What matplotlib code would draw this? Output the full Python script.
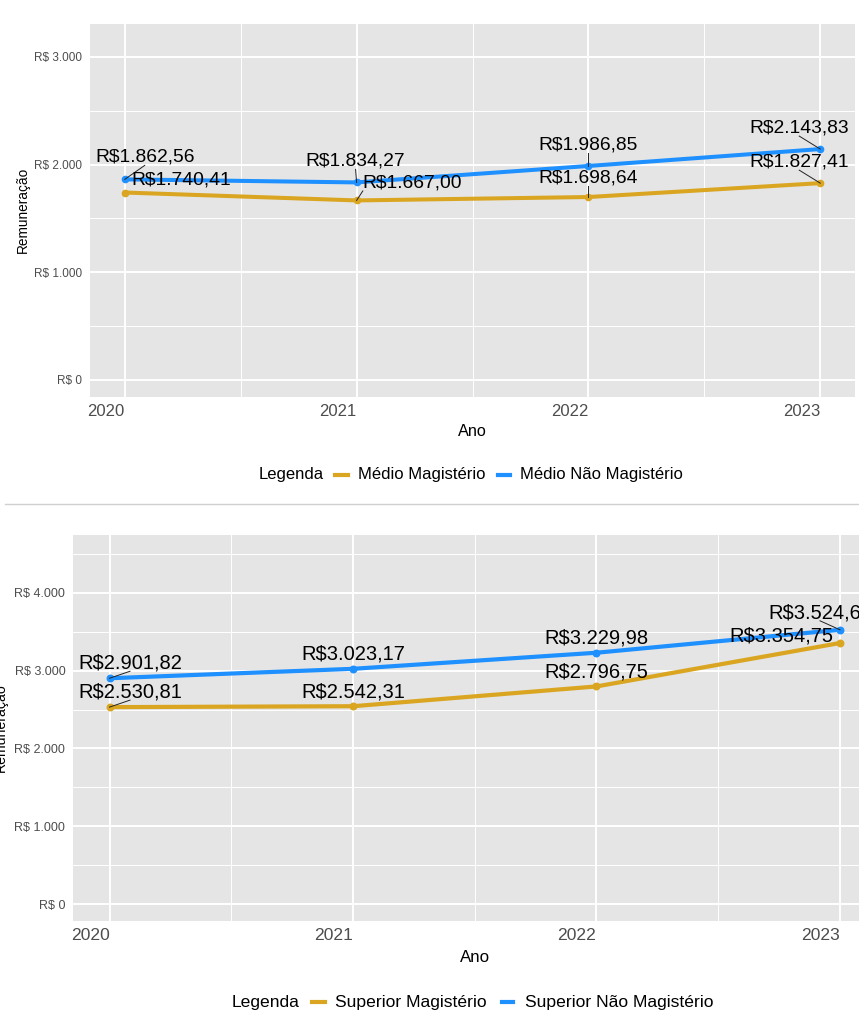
import matplotlib
matplotlib.use("Agg")
import matplotlib.pyplot as plt
from matplotlib.lines import Line2D
from matplotlib.ticker import FixedLocator, FuncFormatter

plt.rcParams['font.family'] = ['Liberation Sans', 'DejaVu Sans']

# ---------------- data ----------------
anos = [2020, 2021, 2022, 2023]

medio_magisterio = [1740.41, 1667.00, 1698.64, 1827.41]
medio_nao_magisterio = [1862.56, 1834.27, 1986.85, 2143.83]

superior_magisterio = [2530.81, 2542.31, 2796.75, 3354.75]
superior_nao_magisterio = [2901.82, 3023.17, 3229.98, 3524.65]

top_series = ["Médio Magistério", "Médio Não Magistério"]
bottom_series = ["Superior Magistério", "Superior Não Magistério"]

GOLD = "#DAA520"
BLUE = "#1E90FF"

W, H = 859, 1030
DPI = 100
fig = plt.figure(figsize=(W / DPI, H / DPI), dpi=DPI)


def px_axes(left, right, top, bottom):
    return fig.add_axes([left / W, 1 - bottom / H, (right - left) / W, (bottom - top) / H])


def brl(v):
    s = f"{v:,.2f}"
    s = s.replace(",", "X").replace(".", ",").replace("X", ".")
    return "R$" + s


def brl_axis(v, pos=None):
    s = f"{v:,.0f}".replace(",", ".")
    return "R$ " + s


def style_axes(ax, ylim, ymajor, yminor, xfs, yfs):
    ax.set_facecolor("#E5E5E5")
    for sp in ax.spines.values():
        sp.set_visible(False)
    ax.set_xlim(2019.85, 2023.15)
    ax.set_ylim(*ylim)
    ax.xaxis.set_major_locator(FixedLocator(anos))
    ax.xaxis.set_minor_locator(FixedLocator([2020.5, 2021.5, 2022.5]))
    ax.yaxis.set_major_locator(FixedLocator(ymajor))
    ax.yaxis.set_minor_locator(FixedLocator(yminor))
    ax.yaxis.set_major_formatter(FuncFormatter(brl_axis))
    ax.set_xticks(anos)
    ax.set_xticklabels([str(a) for a in anos], ha="right", fontsize=xfs, color="#4D4D4D")
    ax.tick_params(axis="x", which="both", length=0, pad=5)
    ax.tick_params(axis="y", which="both", length=0, pad=5.5, labelsize=yfs, labelcolor="#4D4D4D")
    ax.grid(which="major", color="white", linewidth=1.4)
    ax.grid(which="minor", color="white", linewidth=0.7)
    ax.set_axisbelow(True)


def draw_lines(ax, s1, s2, lw, ms):
    ax.plot(anos, s1, color=GOLD, lw=lw, marker="o", ms=ms, solid_capstyle="round", zorder=3)
    ax.plot(anos, s2, color=BLUE, lw=lw, marker="o", ms=ms, solid_capstyle="round", zorder=3)


all_labels = []


def labels(ax, vals, offsets, fs):
    for x, v, (dx, dy) in zip(anos, vals, offsets):
        t = ax.annotate(brl(v), xy=(x, v), xytext=(dx, dy), textcoords="offset pixels",
                        ha="center", va="center", fontsize=fs, color="black", zorder=5,
                        annotation_clip=False)
        all_labels.append((ax, t, x, v, dx, dy))


# ---------------- top panel ----------------
ax1 = px_axes(90, 855, 24, 397)
style_axes(ax1, (-158, 3305), [0, 1000, 2000, 3000], [500, 1500, 2500], 12, 8.5)
draw_lines(ax1, medio_magisterio, medio_nao_magisterio, 2.9, 4.5)
labels(ax1, medio_nao_magisterio, [(20, 22), (-1, 21), (0, 21), (-21, 21)], 13.9)
labels(ax1, medio_magisterio, [(56, 12.5), (56, 17.5), (0, 19), (-21, 21)], 13.9)

fig.text(472.5 / W, 1 - 432 / H, "Ano", ha="center", va="center", fontsize=11.7)
fig.text(22.5 / W, 1 - 210 / H, "Remuneração", ha="center", va="center", rotation=90, fontsize=9.8)

# legend top
ly = 1 - 475 / H
fig.text(259 / W, ly, "Legenda", ha="left", va="center", fontsize=12)
fig.add_artist(Line2D([335 / W, 348 / W], [ly, ly], color=GOLD, lw=3, transform=fig.transFigure))
fig.text(358 / W, ly, top_series[0], ha="left", va="center", fontsize=12)
fig.add_artist(Line2D([498 / W, 510 / W], [ly, ly], color=BLUE, lw=3, transform=fig.transFigure))
fig.text(520 / W, ly, top_series[1], ha="left", va="center", fontsize=12)

# separator
fig.add_artist(Line2D([5 / W, 1.0], [1 - 504.3 / H, 1 - 504.3 / H], color="#D0D0D0", lw=1.0,
                      transform=fig.transFigure))

# ---------------- bottom panel ----------------
ax2 = px_axes(73, 876.5, 535, 921)
style_axes(ax2, (-218, 4743), [0, 1000, 2000, 3000, 4000], [500, 1500, 2500, 3500, 4500], 12.6, 9)
draw_lines(ax2, superior_magisterio, superior_nao_magisterio, 3.0, 4.7)
labels(ax2, superior_nao_magisterio, [(20.5, 15), (0, 15), (0, 15), (-20, 17)], 14.5)
labels(ax2, superior_magisterio, [(20.5, 15), (0, 14), (0, 14), (-59, 7)], 14.5)

fig.text(475 / W, 1 - 957 / H, "Ano", ha="center", va="center", fontsize=12.2)
fig.text(0.5 / W, 1 - 728 / H, "Remuneração", ha="center", va="center", rotation=90, fontsize=10.2)

ly = 1 - 1002 / H
fig.text(232 / W, ly, "Legenda", ha="left", va="center", fontsize=12.6)
fig.add_artist(Line2D([312 / W, 325 / W], [ly, ly], color=GOLD, lw=3, transform=fig.transFigure))
fig.text(335 / W, ly, bottom_series[0], ha="left", va="center", fontsize=12.6)
fig.add_artist(Line2D([502 / W, 513 / W], [ly, ly], color=BLUE, lw=3, transform=fig.transFigure))
fig.text(525 / W, ly, bottom_series[1], ha="left", va="center", fontsize=12.6)

# ---------------- ggrepel-like segments ----------------
fig.canvas.draw()
renderer = fig.canvas.get_renderer()
for ax, t, x, v, dx, dy in all_labels:
    px, py = ax.transData.transform((x, v))
    cx, cy = px + dx, py + dy
    bb = t.get_window_extent(renderer)
    x0, x1 = bb.x0, bb.x1
    y0, y1 = cy - 8, cy + 8
    xm = (x0 + x1) / 2
    cands = [(xx, yy) for xx in (x0, xm, x1) for yy in (y0, cy, y1)]
    best = min(cands, key=lambda c: (c[0] - px) ** 2 + (c[1] - py) ** 2)
    d = ((best[0] - px) ** 2 + (best[1] - py) ** 2) ** 0.5
    if d > 9:
        inv = ax.transData.inverted()
        a = inv.transform(best)
        b = (x, v)
        ax.plot([a[0], b[0]], [a[1], b[1]], color="#222222", lw=0.7, zorder=4, clip_on=False)

fig.savefig("out.png", dpi=DPI)
